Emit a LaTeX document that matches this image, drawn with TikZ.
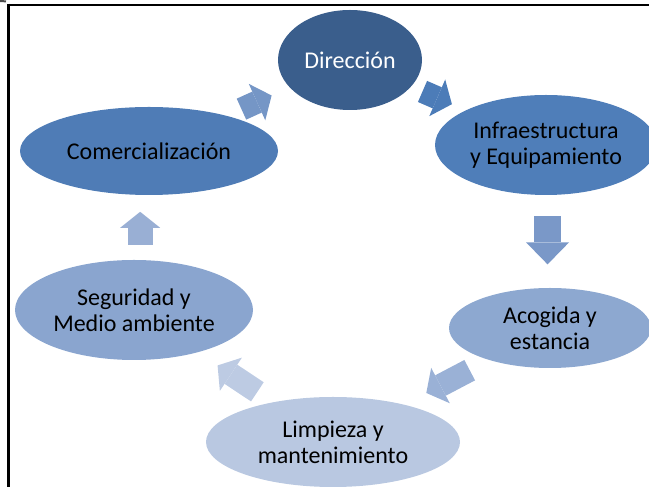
\documentclass[tikz,border=0pt]{standalone}
\usepackage{fontspec}
\setmainfont{Carlito}
\usetikzlibrary{shapes.geometric,arrows.meta,calc}
\definecolor{dirc}{HTML}{3A5E8C}
\definecolor{infc}{HTML}{4F7EB9}
\definecolor{comc}{HTML}{4F7CB6}
\definecolor{segc}{HTML}{8AA5CF}
\definecolor{acoc}{HTML}{8DA8D0}
\definecolor{limc}{HTML}{B9C8E1}
\definecolor{fa}{HTML}{7596C6}
\definecolor{fb}{HTML}{4C7CB8}
\definecolor{fc}{HTML}{7A98C8}
\definecolor{fd}{HTML}{9AB1D6}
\definecolor{fe}{HTML}{BDCBE3}
\definecolor{ff}{HTML}{99AFD4}
\tikzset{
  etapa/.style={ellipse,inner sep=0pt,align=center,font=\fontsize{24}{26}\selectfont},
  flecha/.style={line width=23pt,-{Triangle[width=40pt,length=16pt,line width=0pt]}}
}
\begin{document}
\begin{tikzpicture}[x=1pt,y=1pt]
                \useasboundingbox (0,0) rectangle (649,487);
                \clip (0,0) rectangle (649,487);
                \draw [line width=2.7pt] (7.3,482) -- (649,482);
                \draw [line width=2.7pt] (8.7,483.35) -- (8.7,0);
                \draw [line width=2pt,black!70] (0,486) -- (6,485.6);%coin
                \node[etapa,fill=dirc,text=white,minimum width=144pt,minimum height=100pt] (dir) at (350,427) {Dirección};
                \node[etapa,fill=infc,minimum width=222pt,minimum height=100pt] (infra) at (546,342) {Infraestructura\\y Equipamiento};
                \node[etapa,fill=acoc,minimum width=202pt,minimum height=80pt] (acog) at (550,159) {Acogida y\\estancia};
                \node[etapa,fill=limc,minimum width=254pt,minimum height=90pt] (limp) at (333,45) {Limpieza y\\mantenimiento};
                \node[etapa,fill=segc,minimum width=238pt,minimum height=100pt] (seg) at (134,177) {Seguridad y\\Medio ambiente};
                \node[etapa,fill=comc,minimum width=258pt,minimum height=88pt] (com) at (149,336) {Comercialización};
                \draw [flecha,fa] ($(com)!0.46!(dir)$) -- ($(com)!0.61!(dir)$);
                \draw [flecha,fb] ($(dir)!0.37!(infra)$) -- ($(dir)!0.52!(infra)$);
                \draw [flecha,fc,line width=27pt,-{Triangle[width=43pt,length=22pt,line width=0pt]}] ($(infra)!0.39!(acog)$) -- ++(0,-48);
                \draw [flecha,fd] ($(acog)!0.37!(limp)$) -- ($(acog)!0.57!(limp)$);
                \draw [flecha,fe] ($(limp)!0.38!(seg)$) -- ($(limp)!0.58!(seg)$);
                \draw [flecha,ff,line width=25pt] ($(seg)!0.41!(com)$) -- ++(0,33);
            \end{tikzpicture}
\end{document}
